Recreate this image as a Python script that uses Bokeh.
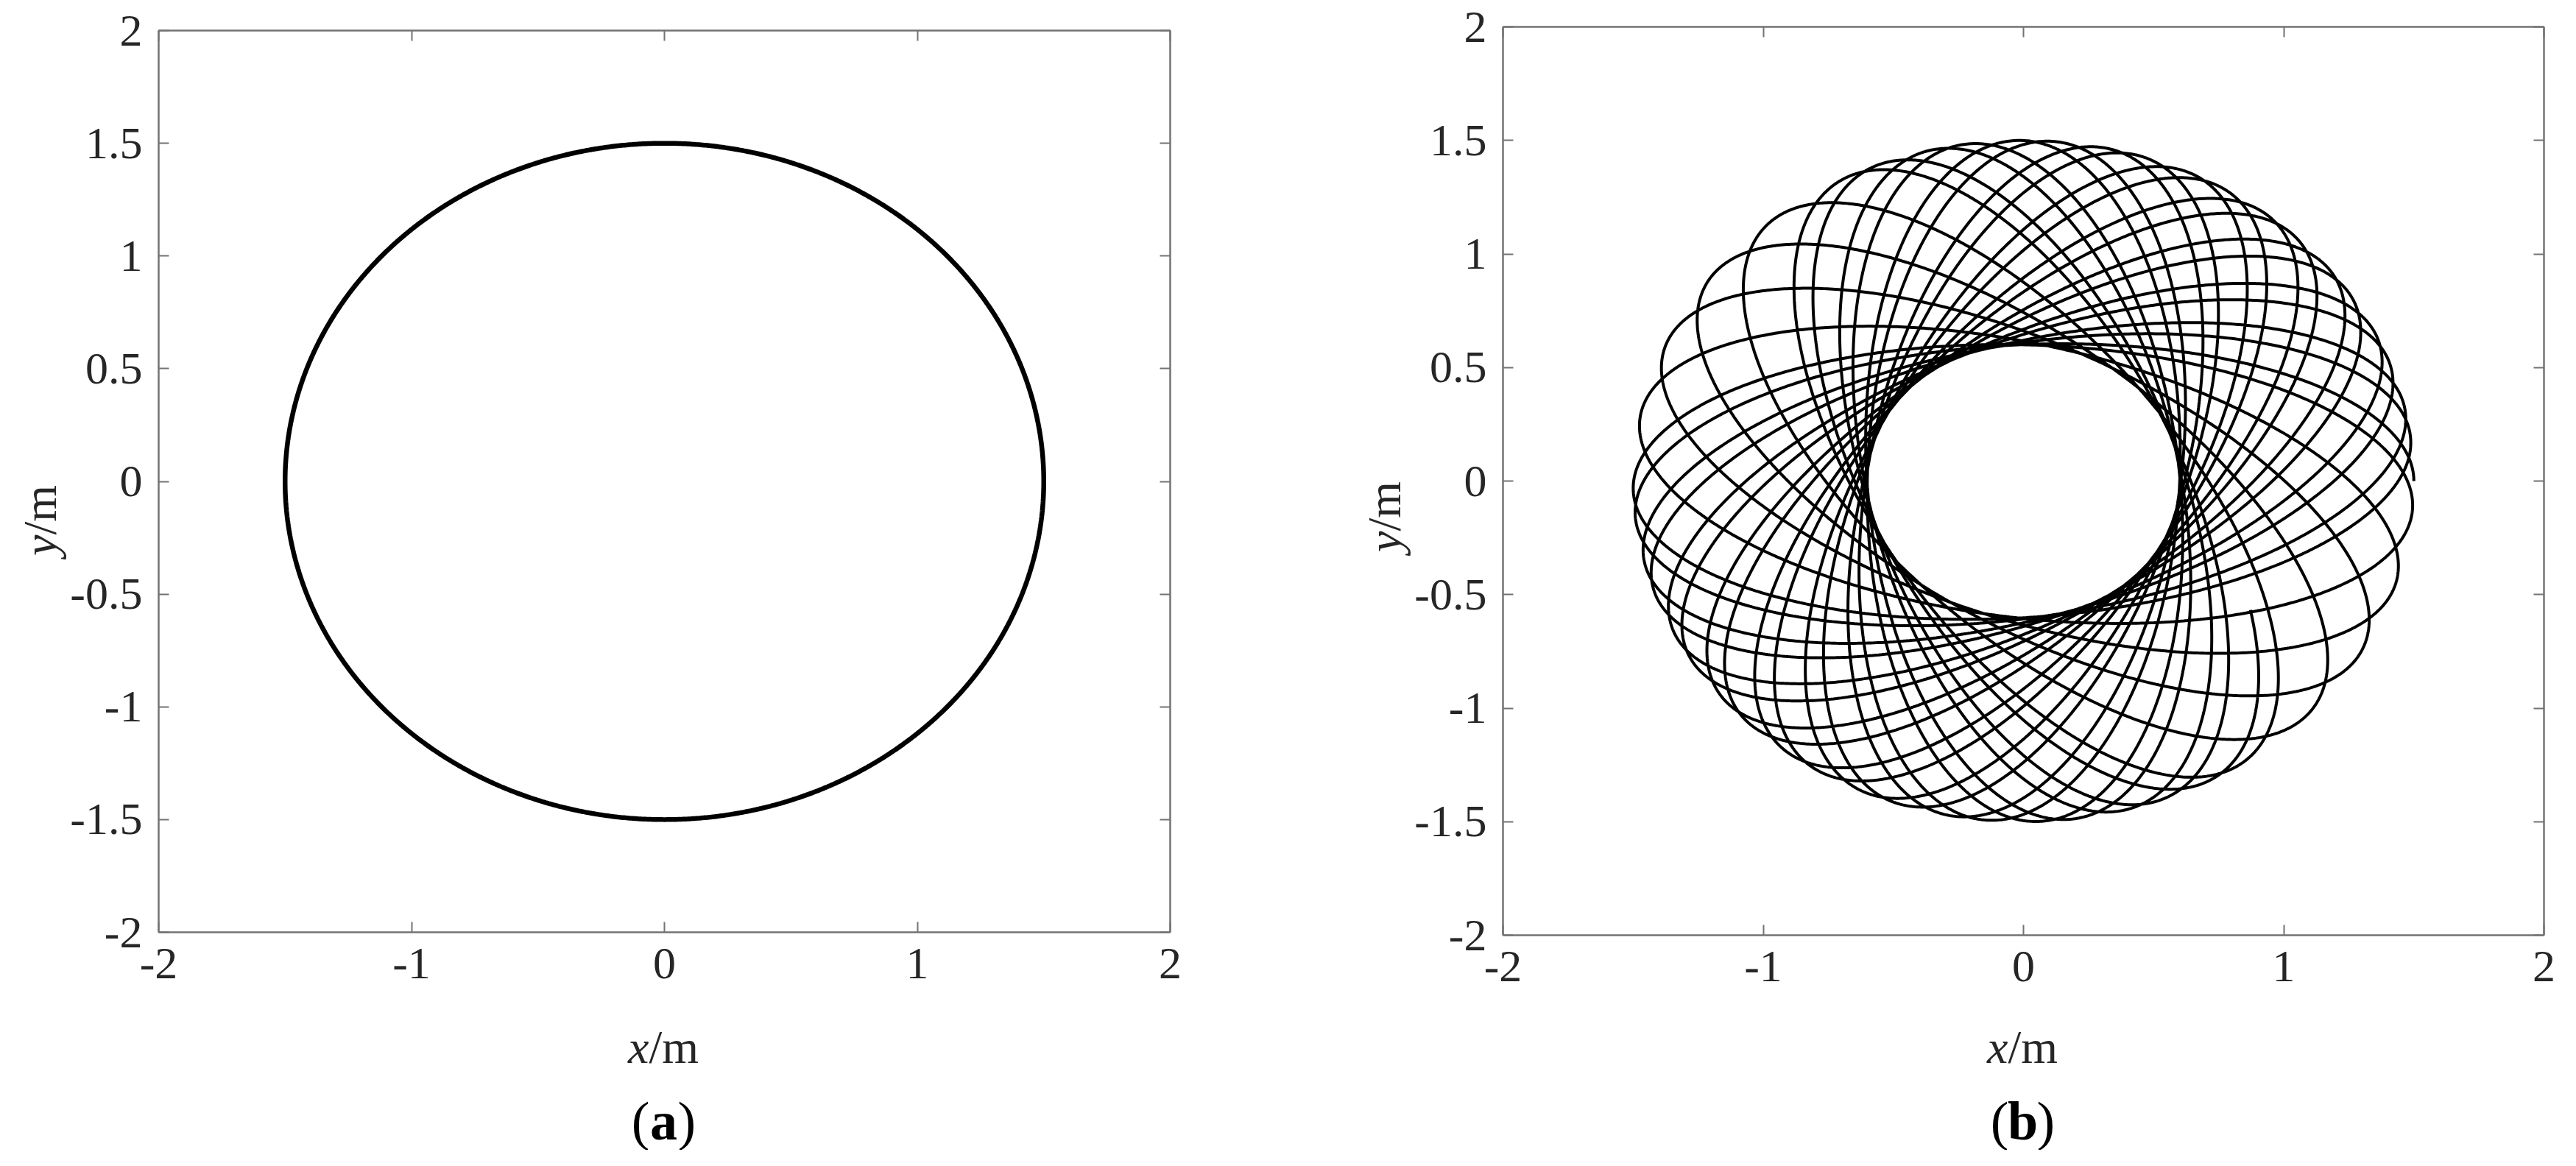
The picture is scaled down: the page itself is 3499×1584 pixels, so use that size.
import numpy as np
from math import pi
from bokeh.plotting import figure
from bokeh.models import Range1d, FixedTicker, LinearAxis, ColumnDataSource
from bokeh.core.properties import value
from bokeh.layouts import row, column
from bokeh.embed import file_html
from bokeh.resources import INLINE

# ---------------- data ----------------
X_TICKS = [-2, -1, 0, 1, 2]
Y_TICKS = [-2, -1.5, -1, -0.5, 0, 0.5, 1, 1.5, 2]
X_TICK_LABELS = ["-2", "-1", "0", "1", "2"]
Y_TICK_LABELS = ["-2", "-1.5", "-1", "-0.5", "0", "0.5", "1", "1.5", "2"]

# (a) circular trajectory
CIRCLE_RADIUS = 1.5
CIRCLE_CENTER = [0.0, 0.0]

# (b) precessing elliptical trajectory (outer radius, inner radius)
ORBIT_SEMI_AXES = [1.5, 0.6]
ORBIT_HALF_TURNS = 46          # number of passes through the outer radius
ORBIT_PRECESSION_DEG = 300.0   # total rotation of the ellipse over the run
ORBIT_END_PHASE = 0.904        # phase of the last point after the final pass

PANEL_CAPTIONS = ["a", "b"]
X_LABEL = ["x", "/m"]
Y_LABEL = ["y", "/m"]

# ---------------- build curves ----------------
th = np.linspace(0, 2 * pi, 1441)
circ_x = CIRCLE_CENTER[0] + CIRCLE_RADIUS * np.cos(th)
circ_y = CIRCLE_CENTER[1] + CIRCLE_RADIUS * np.sin(th)

A, B = ORBIT_SEMI_AXES
T = ORBIT_HALF_TURNS * pi + ORBIT_END_PHASE
t = np.linspace(0, T, 16000)
omega = np.deg2rad(ORBIT_PRECESSION_DEG) / T
ex = A * np.cos(t)
ey = B * np.sin(t)
ang = omega * t
orb_x = ex * np.cos(ang) - ey * np.sin(ang)
orb_y = ex * np.sin(ang) + ey * np.cos(ang)

AXIS_COLOR = "#737373"
TEXT_COLOR = "#262626"
FONT = "Liberation Serif"


def style_axis(ax, ticks, labels, show):
    ax.ticker = FixedTicker(ticks=ticks)
    ax.major_tick_in = 14
    ax.major_tick_out = 0
    ax.minor_tick_in = 0
    ax.minor_tick_out = 0
    ax.axis_line_color = AXIS_COLOR
    ax.axis_line_width = 2.5
    ax.major_tick_line_color = AXIS_COLOR
    ax.major_tick_line_width = 2
    ax.major_label_text_font = FONT
    ax.major_label_text_color = TEXT_COLOR
    ax.major_label_standoff = 22
    ax.major_label_overrides = {float(k): v for k, v in zip(ticks, labels)}
    if show:
        ax.major_label_text_font_size = "62px"
    else:
        ax.major_label_text_font_size = "0px"
        ax.major_label_standoff = 0


def blank_fig(w, h):
    f = figure(frame_width=w, frame_height=h, x_range=Range1d(0, w), y_range=Range1d(0, h),
               min_border_left=0, min_border_right=0, min_border_top=0, min_border_bottom=0,
               x_axis_location=None, y_axis_location=None,
               output_backend="svg", toolbar_location=None)
    f.grid.visible = False
    f.outline_line_color = None
    return f


def main_fig(fw, fh, bl, br, bt, bb, xs, ys, lw):
    p = figure(frame_width=fw, frame_height=fh,
               x_range=Range1d(-2, 2), y_range=Range1d(-2, 2),
               min_border_left=bl, min_border_right=br,
               min_border_top=bt, min_border_bottom=bb,
               output_backend="svg", toolbar_location=None)
    p.grid.visible = False
    p.outline_line_color = None
    style_axis(p.xaxis[0], X_TICKS, X_TICK_LABELS, True)
    style_axis(p.yaxis[0], Y_TICKS, Y_TICK_LABELS, True)
    top = LinearAxis()
    style_axis(top, X_TICKS, X_TICK_LABELS, False)
    p.add_layout(top, "above")
    right = LinearAxis()
    style_axis(right, Y_TICKS, Y_TICK_LABELS, False)
    p.add_layout(right, "right")
    src = ColumnDataSource(dict(x=xs, y=ys))
    p.line("x", "y", source=src, line_width=lw, line_color="black")
    return p


def ylab_fig(w, h, cx, jy):
    f = blank_fig(w, h)
    f.text(x=[cx], y=[jy], text=[Y_LABEL[0]], angle=pi / 2, text_align="right",
           text_baseline="middle", text_font=value(FONT), text_font_style="italic",
           text_font_size="64px", text_color=TEXT_COLOR)
    f.text(x=[cx], y=[jy], text=[Y_LABEL[1]], angle=pi / 2, text_align="left",
           text_baseline="middle", text_font=value(FONT),
           text_font_size="64px", text_color=TEXT_COLOR)
    return f


def cap_fig(w, h, cx, xlab_y, cap_y, cap):
    f = blank_fig(w, h)
    j = cx - 20
    f.text(x=[j], y=[xlab_y], text=[X_LABEL[0]], text_align="right",
           text_baseline="alphabetic", text_font=value(FONT), text_font_style="italic",
           text_font_size="64px", text_color=TEXT_COLOR)
    f.text(x=[j], y=[xlab_y], text=[X_LABEL[1]], text_align="left",
           text_baseline="alphabetic", text_font=value(FONT),
           text_font_size="64px", text_color=TEXT_COLOR)
    half = 19
    f.text(x=[cx], y=[cap_y], text=[cap], text_align="center",
           text_baseline="alphabetic", text_font=value(FONT), text_font_style="bold",
           text_font_size="74px", text_color="black")
    f.text(x=[cx - half], y=[cap_y], text=["("], text_align="right",
           text_baseline="alphabetic", text_font=value(FONT),
           text_font_size="74px", text_color="black")
    f.text(x=[cx + half], y=[cap_y], text=[")"], text_align="left",
           text_baseline="alphabetic", text_font=value(FONT),
           text_font_size="74px", text_color="black")
    return f


MAIN_H = 1366      # page y 8 .. 1374
CAP_H = 196        # page y 1374 .. 1570

# panel (a): page x 8..1758
y1 = ylab_fig(92, MAIN_H, 54, 681)
m1 = main_fig(1374, 1225, 122, 162, 41, 100, circ_x, circ_y, 6.5)
c1 = cap_fig(1750, CAP_H, 901, 140, 40, PANEL_CAPTIONS[0])

# panel (b): page x 1758..3491
y2 = ylab_fig(167, MAIN_H, 129, 681)
m2 = main_fig(1414, 1234, 122, 30, 36, 96, orb_x, orb_y, 4.0)
c2 = cap_fig(1733, CAP_H, 996, 140, 40, PANEL_CAPTIONS[1])

layout = row(column(row(y1, m1, spacing=0), c1, spacing=0),
             column(row(y2, m2, spacing=0), c2, spacing=0), spacing=0)
open("out.html", "w").write(file_html(layout, INLINE))
